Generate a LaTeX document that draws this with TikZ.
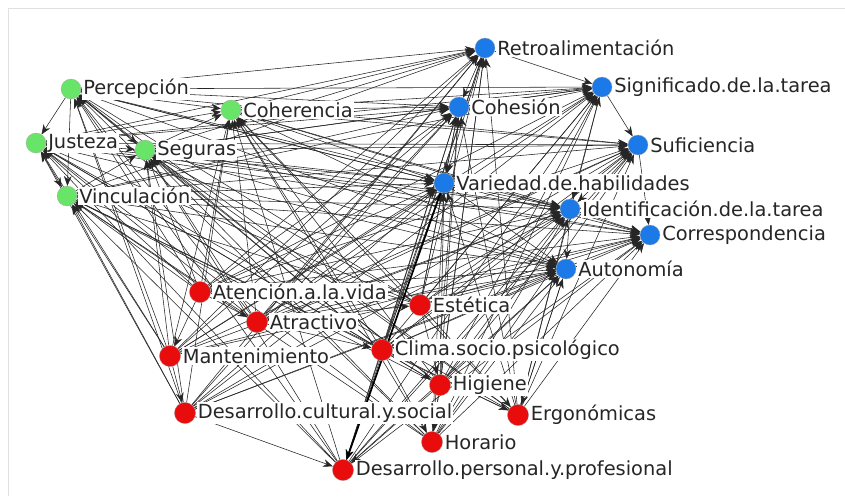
\documentclass[tikz,border=0pt]{standalone}
\usepackage{fontspec}
\setmainfont{DejaVu Sans}
\usetikzlibrary{arrows.meta}
\definecolor{nodegreen}{RGB}{104,228,104}
\definecolor{nodeblue}{RGB}{28,122,232}
\definecolor{nodered}{RGB}{232,12,12}
\pgfdeclarelayer{edges}
\pgfsetlayers{edges,main}

\begin{document}
\begin{tikzpicture}[x=0.025cm, y=-0.025cm,
  vert/.style={circle, minimum size=0.5cm, inner sep=0pt, draw=black!35, line width=0.2pt},
  gvert/.style={vert, fill=nodegreen},
  bvert/.style={vert, fill=nodeblue},
  rvert/.style={vert, fill=nodered, minimum size=0.53cm},
  every label/.style={fill=white, inner sep=0.8pt, font=\fontsize{13.8}{16}\selectfont, text=black!85},
  label distance=0.5pt,
  arc/.style={-{Stealth[length=7pt,width=5.5pt]}, line width=0.4pt, black!85}]
\useasboundingbox (0,0) rectangle (845,496);
\draw[black!12, line width=0.6pt] (845,8) -- (8,8) -- (8,496);

% green group
\node[gvert, label=right:{Percepción}] (per) at (71,89){};
\node[gvert, label=right:{Coherencia}] (coh) at (231,110){};
\node[gvert, label=right:{Justeza}] (jus) at (36,143){};
\node[gvert, label=right:{Seguras}] (seg) at (145,150){};
\node[gvert, label=right:{Vinculación}] (vin) at (67,196){};
% blue group
\node[bvert, label=right:{Retroalimentación}] (ret) at (485,48){};
\node[bvert, label=right:{Significado.de.la.tarea}] (sig) at (602,87){};
\node[bvert, label=right:{Cohesión}] (cohs) at (459,107){};
\node[bvert, label=right:{Suficiencia}] (suf) at (638,145){};
\node[bvert, label=right:{Variedad.de.habilidades}] (var) at (444,183){};
\node[bvert, label=right:{Identificación.de.la.tarea}] (ide) at (570,209){};
\node[bvert, label=right:{Correspondencia}] (cor) at (650,235){};
\node[bvert, label=right:{Autonomía}] (aut) at (566,269){};
% red group
\node[rvert, label=right:{Atención.a.la.vida}] (ate) at (200,292){};
\node[rvert, label=right:{Atractivo}] (atr) at (257,322){};
\node[rvert, label=right:{Estética}] (est) at (420,305){};
\node[rvert, label=right:{Mantenimiento}] (man) at (170,356){};
\node[rvert, label=right:{Clima.socio.psicológico}] (cli) at (382,350){};
\node[rvert, label=right:{Higiene}] (hig) at (440,385){};
\node[rvert, label=right:{Desarrollo.cultural.y.social}] (dcs) at (185,413){};
\node[rvert, label=right:{Ergonómicas}] (erg) at (518,415){};
\node[rvert, label=right:{Horario}] (hor) at (432,442){};
\node[rvert, label=right:{Desarrollo.personal.y.profesional}] (dpp) at (343,470){};

\begin{pgfonlayer}{edges}
\foreach \s in {ate,atr,est,man,cli,hig,dcs,erg,hor,dpp}
  \foreach \t in {per,coh,jus,seg,vin,ret,sig,cohs,suf,var,ide,cor,aut}
    \draw[arc] (\s) -- (\t);
\foreach \s in {per,coh,jus,seg,vin}
  \foreach \t in {ret,sig,cohs,suf,var,ide,cor,aut}
    \draw[arc] (\s) -- (\t);
\foreach \s/\t in {per/jus,jus/vin,per/vin,jus/seg,per/coh,per/seg,jus/coh,seg/coh,vin/seg,
  ret/cohs,ret/sig,sig/suf,cohs/var,var/ide,ide/cor,var/aut,sig/ide,suf/cor,ret/var,cohs/sig,ide/aut,suf/ide,
  cli/hig,est/hig,cli/hor,hig/hor,aut/erg,est/erg,cli/erg,cli/dpp,hig/dpp,man/dcs,ate/man,atr/cli,ate/atr,atr/est,dcs/dpp}
  \draw[arc] (\s) -- (\t);
\draw[arc, line width=1.2pt, black] (var) -- (dpp);
\end{pgfonlayer}
\end{tikzpicture}
\end{document}
